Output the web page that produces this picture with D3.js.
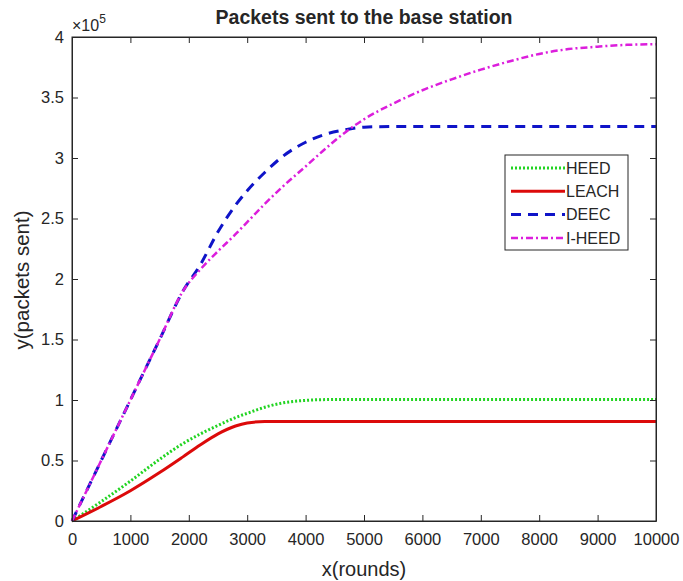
<!DOCTYPE html>
<html>
<head>
<meta charset="utf-8">
<script src="https://cdn.jsdelivr.net/npm/d3@7"></script>
<style>
  body { margin: 0; background: #fff; }
  text { font-family: "Liberation Sans", Arial, sans-serif; fill: #262626; }
</style>
</head>
<body>
<script>
// rounds sampled along the x axis
var rounds = [0, 500, 1000, 1500, 1900, 2200, 2500, 2800, 3000, 3300, 3600, 4000, 4300, 4700,
              5000, 5500, 6000, 6500, 7000, 7500, 8000, 8500, 9000, 9500, 10000];

// packets sent (x 10^5) for each protocol
var heed  = [0, 0.16, 0.33, 0.51, 0.64, 0.72, 0.79, 0.855, 0.89, 0.94, 0.975, 0.997, 1.003, 1.005,
             1.005, 1.005, 1.005, 1.005, 1.005, 1.005, 1.005, 1.005, 1.005, 1.005, 1.005];
var leach = [0, 0.12, 0.25, 0.40, 0.53, 0.63, 0.72, 0.785, 0.81, 0.822, 0.822, 0.822, 0.822, 0.822,
             0.822, 0.822, 0.822, 0.822, 0.822, 0.822, 0.822, 0.822, 0.822, 0.822, 0.822];
var deec  = [0, 0.5, 1.0, 1.5, 1.9, 2.12, 2.39, 2.61, 2.73, 2.88, 3.01, 3.13, 3.19, 3.235,
             3.255, 3.26, 3.26, 3.26, 3.26, 3.26, 3.26, 3.26, 3.26, 3.26, 3.26];
var iheed = [0, 0.5, 1.0, 1.5, 1.9, 2.08, 2.23, 2.37, 2.47, 2.62, 2.76, 2.93, 3.06, 3.22,
             3.32, 3.45, 3.56, 3.65, 3.73, 3.80, 3.86, 3.90, 3.92, 3.935, 3.94];

var seriesNames = ["HEED", "LEACH", "DEEC", "I-HEED"];
var xTicks = [0, 1000, 2000, 3000, 4000, 5000, 6000, 7000, 8000, 9000, 10000];
var yTicks = [0, 0.5, 1, 1.5, 2, 2.5, 3, 3.5, 4];

var width = 683,
    height = 581;

var plotL = 72, plotR = 656, plotT = 37, plotB = 521;

var svg = d3.select("body").append("svg")
    .attr("width", width)
    .attr("height", height);

var x = d3.scaleLinear().domain([0, 10000]).range([plotL, plotR]);
var y = d3.scaleLinear().domain([0, 4]).range([plotB, plotT]);

var series = [
  {name: seriesNames[0], values: heed,  color: "#22d422", w: 3,   dash: "2,2"},
  {name: seriesNames[1], values: leach, color: "#dc0a0a", w: 3,   dash: null},
  {name: seriesNames[2], values: deec,  color: "#0f14c8", w: 3,   dash: "10,7"},
  {name: seriesNames[3], values: iheed, color: "#dc1edc", w: 2.5, dash: "7,3,2,3"}
];

// lines
var line = d3.line()
    .x(function(d) { return x(d[0]); })
    .y(function(d) { return y(d[1]); })
    .curve(d3.curveMonotoneX);

svg.selectAll("path.series")
    .data(series)
  .enter().append("path")
    .attr("class", "series")
    .attr("fill", "none")
    .attr("stroke", function(d) { return d.color; })
    .attr("stroke-width", function(d) { return d.w; })
    .attr("stroke-dasharray", function(d) { return d.dash; })
    .attr("d", function(d) { return line(d3.zip(rounds, d.values)); });

// axes (ticks inward, on all four sides)
svg.append("g")
    .attr("transform", "translate(0," + plotB + ")")
    .call(d3.axisBottom(x).tickValues(xTicks).tickSizeInner(-6).tickSizeOuter(0)
      .tickPadding(12).tickFormat(d3.format("d")));
svg.append("g")
    .attr("transform", "translate(0," + plotT + ")")
    .call(d3.axisTop(x).tickValues(xTicks).tickSizeInner(-6).tickSizeOuter(0).tickFormat(""));
svg.append("g")
    .attr("transform", "translate(" + plotL + ",0)")
    .call(d3.axisLeft(y).tickValues(yTicks).tickSizeInner(-6).tickSizeOuter(0)
      .tickPadding(8).tickFormat(function(d) { return String(d); }));
svg.append("g")
    .attr("transform", "translate(" + plotR + ",0)")
    .call(d3.axisRight(y).tickValues(yTicks).tickSizeInner(-6).tickSizeOuter(0).tickFormat(""));

svg.selectAll(".tick text").style("font-size", "16.5px").attr("fill", "#262626");
svg.selectAll(".domain, .tick line").attr("stroke", "#262626");

svg.append("rect")
    .attr("x", plotL).attr("y", plotT)
    .attr("width", plotR - plotL).attr("height", plotB - plotT)
    .attr("fill", "none").attr("stroke", "#262626").attr("stroke-width", 1);

// title and labels
svg.append("text")
    .attr("x", 364).attr("y", 24)
    .attr("text-anchor", "middle")
    .style("font-size", "19.5px").style("font-weight", "bold")
    .attr("fill", "#000")
    .text("Packets sent to the base station");

var mult = svg.append("text").attr("x", 72).attr("y", 31).style("font-size", "16px");
mult.append("tspan").text("\u00d710");
mult.append("tspan").attr("dy", -8).style("font-size", "12px").text("5");

svg.append("text")
    .attr("x", 364).attr("y", 576)
    .attr("text-anchor", "middle")
    .style("font-size", "20px")
    .text("x(rounds)");

svg.append("text")
    .attr("transform", "translate(29,280) rotate(-90)")
    .attr("text-anchor", "middle")
    .style("font-size", "20.5px")
    .text("y(packets sent)");

// legend
var legend = svg.append("g");
legend.append("rect")
    .attr("x", 505).attr("y", 155)
    .attr("width", 123).attr("height", 95)
    .attr("fill", "#fff").attr("stroke", "#262626").attr("stroke-width", 1);

var item = legend.selectAll("g.item")
    .data(series)
  .enter().append("g")
    .attr("class", "item")
    .attr("transform", function(d, i) { return "translate(0," + (168 + i * 23.3) + ")"; });

item.append("line")
    .attr("x1", 511).attr("x2", 565)
    .attr("stroke", function(d) { return d.color; })
    .attr("stroke-width", function(d) { return d.w; })
    .attr("stroke-dasharray", function(d) { return d.dash; });

item.append("text")
    .attr("x", 566).attr("dy", "0.36em")
    .style("font-size", "16px")
    .attr("fill", "#000")
    .text(function(d) { return d.name; });
</script>
</body>
</html>
